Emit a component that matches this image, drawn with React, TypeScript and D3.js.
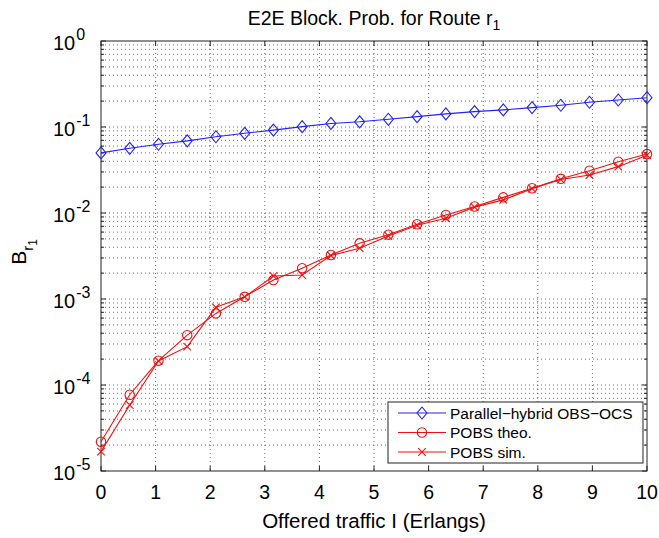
import React, { useEffect, useRef } from 'react';
import * as d3 from 'd3';

// offered traffic points (20 samples between 0 and 10)
const traffic = [0, 0.526, 1.053, 1.579, 2.105, 2.632, 3.158, 3.684, 4.211, 4.737,
  5.263, 5.789, 6.316, 6.842, 7.368, 7.895, 8.421, 8.947, 9.474, 10];

const hybrid = [0.050, 0.0565, 0.063, 0.069, 0.077, 0.0845, 0.092, 0.101, 0.110, 0.115,
  0.123, 0.132, 0.142, 0.151, 0.158, 0.168, 0.179, 0.194, 0.206, 0.219];

const pobsTheo = [2.19e-5, 7.7e-5, 1.92e-4, 3.8e-4, 6.8e-4, 1.06e-3, 1.66e-3, 2.28e-3, 3.25e-3, 4.44e-3,
  5.6e-3, 7.4e-3, 9.5e-3, 1.19e-2, 1.52e-2, 1.94e-2, 2.5e-2, 3.1e-2, 3.95e-2, 4.85e-2];

const pobsSim = [1.68e-5, 5.85e-5, 1.9e-4, 2.79e-4, 8.0e-4, 1.06e-3, 1.85e-3, 1.9e-3, 3.2e-3, 3.9e-3,
  5.4e-3, 7.2e-3, 8.7e-3, 1.17e-2, 1.42e-2, 1.92e-2, 2.45e-2, 2.77e-2, 3.46e-2, 4.7e-2];

const xTicks = [0, 1, 2, 3, 4, 5, 6, 7, 8, 9, 10];
const yExponents = [0, -1, -2, -3, -4, -5];

const legendLabels = ['Parallel\u2212hybrid OBS\u2212OCS', 'POBS theo.', 'POBS sim.'];

export default function App() {
  const svgRef = useRef<SVGSVGElement | null>(null);

  useEffect(() => {
    const svg = d3.select(svgRef.current);
    svg.selectAll('*').remove();

    const W = 659, H = 538;
    const margin = { top: 41, right: 12, bottom: 67, left: 101 };
    const width = W - margin.left - margin.right;
    const height = H - margin.top - margin.bottom;
    const font = 'Liberation Sans, Arial, sans-serif';

    svg.attr('width', W).attr('height', H);

    svg.append('rect').attr('width', W).attr('height', H).attr('fill', '#fff');

    const g = svg.append('g').attr('transform', `translate(${margin.left},${margin.top})`);

    const x = d3.scaleLinear().domain([0, 10]).range([0, width]);
    const y = d3.scaleLog().domain([1e-5, 1]).range([height, 0]);

    // minor log values
    const minorVals: number[] = [];
    for (let e = -5; e < 0; e++) {
      for (let m = 1; m <= 9; m++) minorVals.push(m * Math.pow(10, e));
    }
    minorVals.push(1);

    // grid
    const grid = g.append('g').attr('stroke', '#444').attr('stroke-width', 0.8)
      .attr('stroke-dasharray', '1,3');
    grid.selectAll('line.h')
      .data(minorVals.filter((v) => v > 1e-5 && v < 1))
      .join('line')
      .attr('x1', 0).attr('x2', width)
      .attr('y1', (d) => y(d)).attr('y2', (d) => y(d));
    grid.selectAll('line.v')
      .data(xTicks.slice(1, -1))
      .join('line')
      .attr('class', 'v')
      .attr('y1', 0).attr('y2', height)
      .attr('x1', (d) => x(d)).attr('x2', (d) => x(d));

    // ticks (inside, all four sides)
    const ticks = g.append('g').attr('stroke', '#222').attr('stroke-width', 1);
    xTicks.forEach((t) => {
      ticks.append('line').attr('x1', x(t)).attr('x2', x(t)).attr('y1', height).attr('y2', height - 5);
      ticks.append('line').attr('x1', x(t)).attr('x2', x(t)).attr('y1', 0).attr('y2', 5);
    });
    minorVals.forEach((v) => {
      const major = Math.abs(Math.log10(v) - Math.round(Math.log10(v))) < 1e-9;
      const len = major ? 5 : 3;
      ticks.append('line').attr('x1', 0).attr('x2', len).attr('y1', y(v)).attr('y2', y(v));
      ticks.append('line').attr('x1', width).attr('x2', width - len).attr('y1', y(v)).attr('y2', y(v));
    });

    // axes box
    g.append('rect').attr('width', width).attr('height', height)
      .attr('fill', 'none').attr('stroke', '#222').attr('stroke-width', 1);

    // x tick labels
    g.selectAll('text.xt')
      .data(xTicks)
      .join('text')
      .attr('class', 'xt')
      .attr('x', (d) => x(d))
      .attr('y', height + 28)
      .attr('text-anchor', 'middle')
      .attr('font-family', font)
      .attr('font-size', 19.5)
      .attr('fill', '#000')
      .text((d) => d);

    // y tick labels 10^e
    yExponents.forEach((e) => {
      const t = g.append('text')
        .attr('x', -48)
        .attr('y', y(Math.pow(10, e)) + 8.5)
        .attr('text-anchor', 'start')
        .attr('font-family', font)
        .attr('font-size', 20)
        .attr('fill', '#000');
      t.append('tspan').text('10');
      t.append('tspan').attr('dx', 1).attr('dy', -10).attr('font-size', 16).text(e === 0 ? '0' : `-${-e}`);
    });

    // lines + markers
    const line = d3.line<[number, number]>().x((d) => x(d[0])).y((d) => y(d[1]));
    const seriesDefs = [
      { values: hybrid, color: '#2222ee', marker: 'diamond' },
      { values: pobsTheo, color: '#ee1111', marker: 'circle' },
      { values: pobsSim, color: '#ee1111', marker: 'cross' },
    ];

    const drawMarker = (sel: any, type: string, cx: number, cy: number, color: string) => {
      if (type === 'diamond') {
        sel.append('path')
          .attr('d', `M${cx},${cy - 6}L${cx + 5},${cy}L${cx},${cy + 6}L${cx - 5},${cy}Z`)
          .attr('fill', 'none').attr('stroke', color).attr('stroke-width', 1.1);
      } else if (type === 'circle') {
        sel.append('circle').attr('cx', cx).attr('cy', cy).attr('r', 4.7)
          .attr('fill', 'none').attr('stroke', color).attr('stroke-width', 1.1);
      } else {
        const s = 3.8;
        sel.append('path')
          .attr('d', `M${cx - s},${cy - s}L${cx + s},${cy + s}M${cx - s},${cy + s}L${cx + s},${cy - s}`)
          .attr('fill', 'none').attr('stroke', color).attr('stroke-width', 1.1);
      }
    };

    seriesDefs.forEach((s) => {
      const pts: [number, number][] = traffic.map((t, i) => [t, s.values[i]]);
      g.append('path')
        .attr('d', line(pts))
        .attr('fill', 'none')
        .attr('stroke', s.color)
        .attr('stroke-width', 1.1);
      const mg = g.append('g');
      pts.forEach((p) => drawMarker(mg, s.marker, x(p[0]), y(p[1]), s.color));
    });

    // legend
    const lx = 388 - margin.left, ly = 402 - margin.top;
    const lg = g.append('g').attr('transform', `translate(${lx},${ly})`);
    lg.append('rect').attr('width', 255).attr('height', 61)
      .attr('fill', '#fff').attr('stroke', '#222').attr('stroke-width', 1);
    legendLabels.forEach((label, i) => {
      const cy = 11 + i * 19.5;
      const s = seriesDefs[i];
      lg.append('line').attr('x1', 10).attr('x2', 58).attr('y1', cy).attr('y2', cy)
        .attr('stroke', s.color).attr('stroke-width', 1.1);
      drawMarker(lg, s.marker, 34, cy, s.color);
      lg.append('text')
        .attr('x', 62).attr('y', cy + 5.5)
        .attr('font-family', font).attr('font-size', 15.5).attr('fill', '#000')
        .text(label);
    });

    // title
    const title = svg.append('text')
      .attr('x', margin.left + width / 2)
      .attr('y', 25)
      .attr('text-anchor', 'middle')
      .attr('font-family', font)
      .attr('font-size', 19.5)
      .attr('fill', '#000');
    title.append('tspan').text('E2E Block. Prob. for Route r');
    title.append('tspan').attr('dy', 5).attr('font-size', 14).text('1');

    // x label
    svg.append('text')
      .attr('x', margin.left + width / 2)
      .attr('y', 528)
      .attr('text-anchor', 'middle')
      .attr('font-family', font)
      .attr('font-size', 20.5)
      .attr('fill', '#000')
      .text('Offered traffic I (Erlangs)');

    // y label
    const yl = svg.append('text')
      .attr('transform', `translate(26,${margin.top + height / 2 - 4}) rotate(-90)`)
      .attr('text-anchor', 'middle')
      .attr('font-family', font)
      .attr('font-size', 21)
      .attr('fill', '#000');
    yl.append('tspan').text('B');
    yl.append('tspan').attr('dy', 7).attr('font-size', 15).text('r');
    yl.append('tspan').attr('dy', 4).attr('font-size', 12).text('1');
  }, []);

  return <svg ref={svgRef} style={{ display: 'block', position: 'absolute', left: 0, top: 0 }} />;
}
